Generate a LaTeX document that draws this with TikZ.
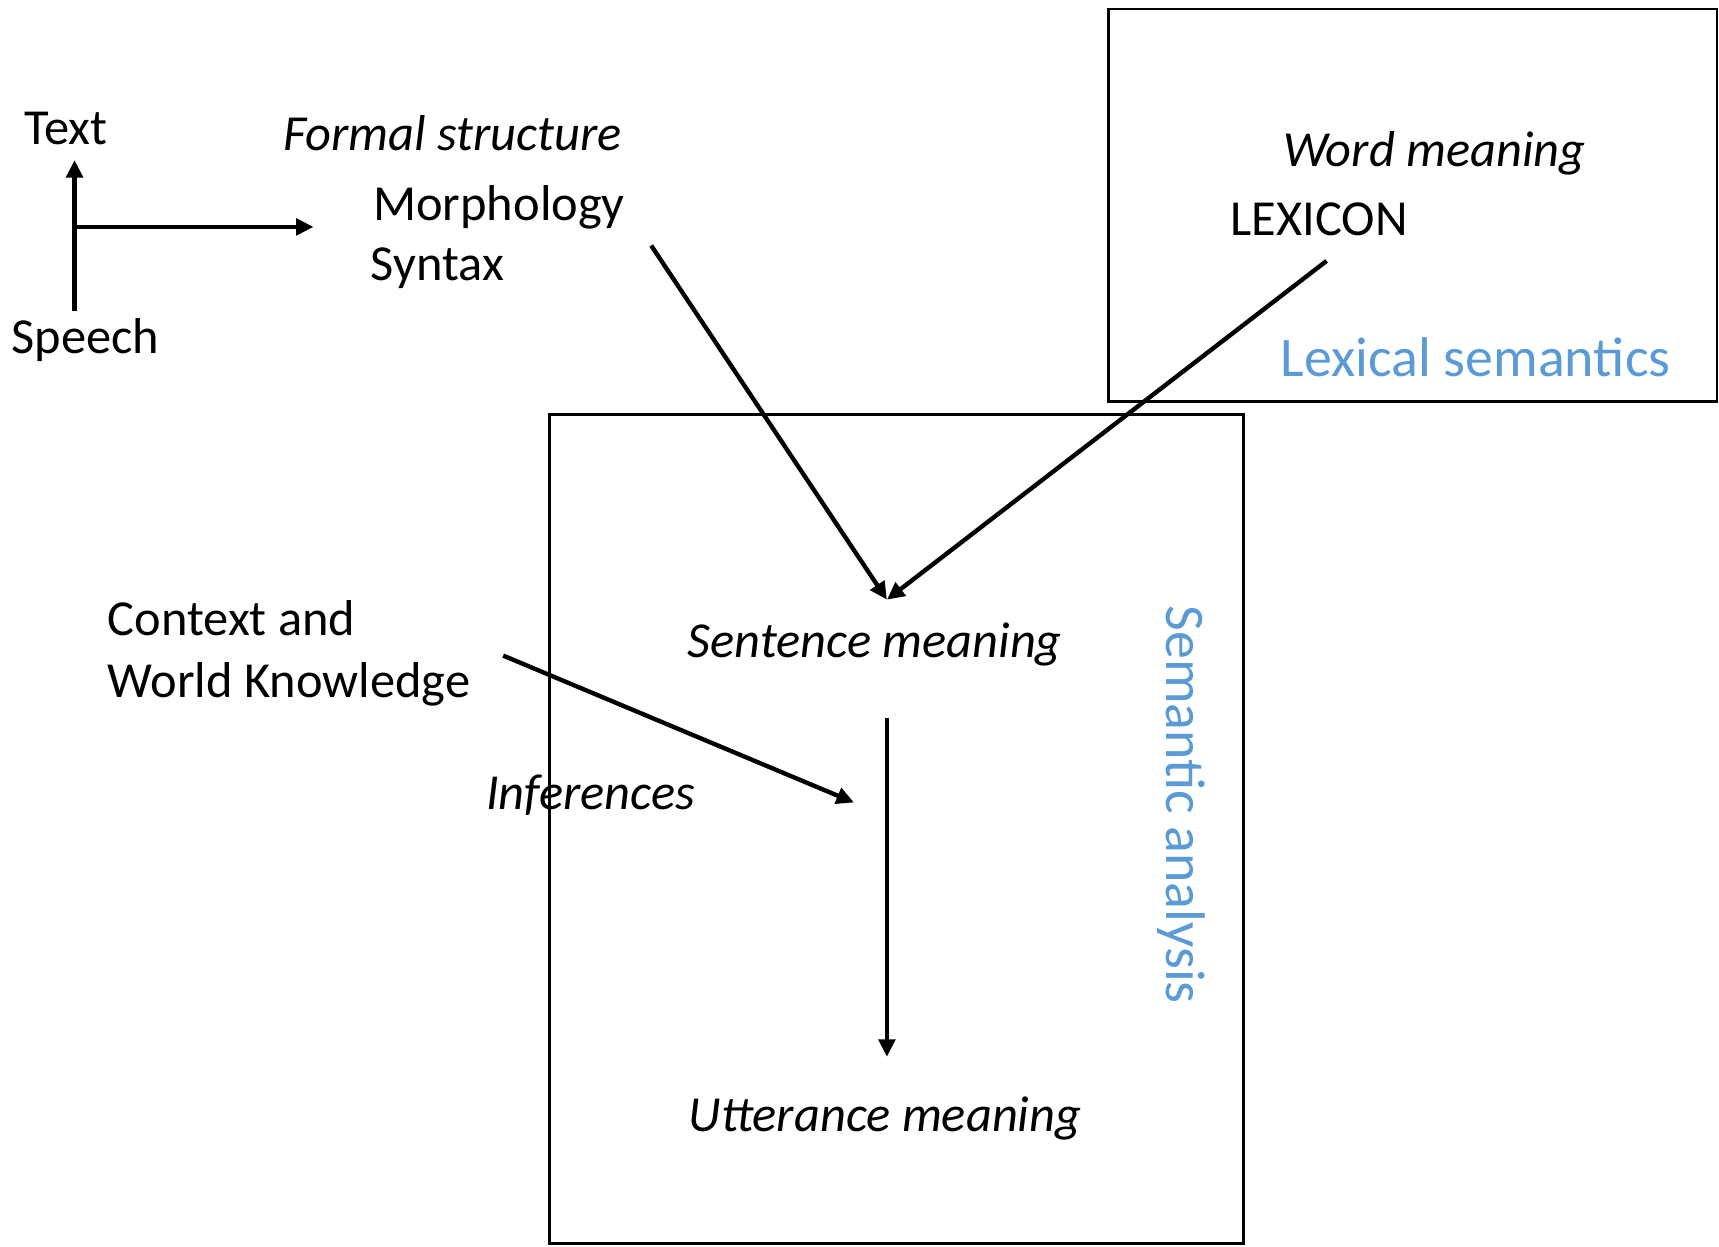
\documentclass[tikz,border=0pt]{standalone}
\usepackage{fontspec}
\setmainfont{Carlito}
\usetikzlibrary{arrows.meta}
\definecolor{accblue}{RGB}{91,155,213}
\tikzset{
  lbl/.style={inner sep=0pt, anchor=base west, font=\fontsize{23}{27}\selectfont},
  ilbl/.style={lbl, font=\fontsize{23}{27}\selectfont\itshape},
  blbl/.style={inner sep=0pt, anchor=base west, text=accblue, font=\fontsize{25.5}{30}\selectfont},
  frame/.style={draw=black, line width=1.1pt},
  arr/.style={draw=black, line width=2pt, -{Triangle[length=8pt,width=7.5pt]}}
}
\begin{document}
\begin{tikzpicture}[x=0.5pt,y=-0.5pt]
\useasboundingbox (0,0) rectangle (1568,1137);
% frames
\node[frame, minimum width=555*0.5pt, minimum height=358*0.5pt, anchor=north west, inner sep=0pt] (lexbox) at (1010,7) {};
\node[frame, minimum width=633*0.5pt, minimum height=756*0.5pt, anchor=north west, inner sep=0pt] (sembox) at (500,377) {};
% texts
\node[lbl] (text) at (22,132) {Text};
\node[lbl] (speech) at (10,322) {Speech};
\node[ilbl] (formal) at (258,137) {Formal structure};
\node[lbl] (morph) at (340,201) {Morphology};
\node[lbl] (syntax) at (338,256) {Syntax};
\node[ilbl] (word) at (1170,152) {Word meaning};
\node[lbl] (lexicon) at (1122,215) {LEXICON};
\node[blbl] (lexsem) at (1168,343) {Lexical semantics};
\node[blbl, rotate=-90, anchor=center] (semana) at (1078,734) {Semantic analysis};
\node[ilbl] (sentence) at (627,600) {Sentence meaning};
\node[lbl] (context) at (98,580) {Context and};
\node[lbl] (world) at (98,636) {World Knowledge};
\node[ilbl] (infer) at (443,738) {Inferences};
\node[ilbl] (utter) at (628,1032) {Utterance meaning};
% connector end points
\coordinate (vbot) at (68,284);
\coordinate (vtop) at (68,146);
\coordinate (hjoin) at (68,207);
\coordinate (hend) at (286,207);
\coordinate (msstart) at (594,224);
\coordinate (lxstart) at (1210,238);
\coordinate (senttop) at (809,547);
\coordinate (cwstart) at (459,598);
\coordinate (cwend) at (779,732);
\coordinate (smstart) at (809,655);
\coordinate (smend) at (809,964);
% connectors
\draw[arr] (vbot) -- (vtop);
\draw[arr] (hjoin) -- (hend);
\draw[arr] (msstart) -- (senttop);
\draw[arr] (lxstart) -- (senttop);
\draw[arr] (cwstart) -- (cwend);
\draw[arr] (smstart) -- (smend);
\end{tikzpicture}
\end{document}
